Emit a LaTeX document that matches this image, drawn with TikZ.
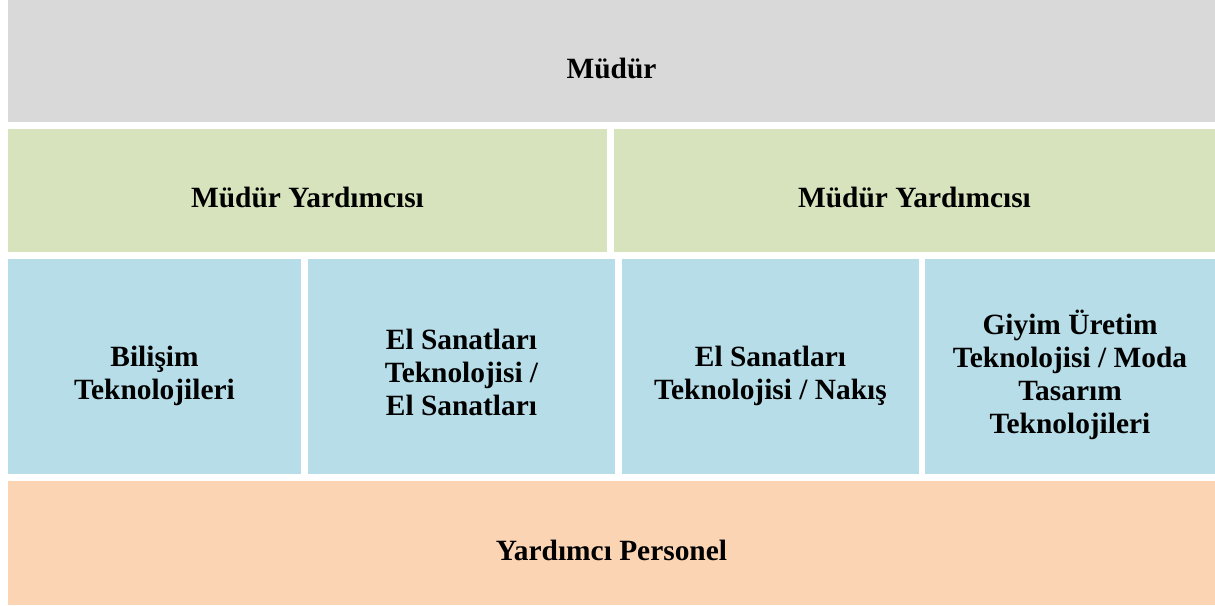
\documentclass[tikz,border=0pt]{standalone}
\usepackage{fontspec}
\setmainfont{Liberation Serif}
\usepackage{xcolor}
\definecolor{cellgray}{HTML}{D9D9D9}
\definecolor{cellgreen}{HTML}{D7E3BC}
\definecolor{cellblue}{HTML}{B7DDE8}
\definecolor{cellorange}{HTML}{FBD4B4}
\tikzset{%
  every cell/.style={
    rectangle,
    draw=none,
    inner sep=0pt,
    outer sep=0pt
  },
  cell text/.style={
    anchor=base,
    align=center,
    inner sep=0pt,
    font=\fontsize{29.4}{33}\selectfont\bfseries
  },
}
\begin{document}
\begin{tikzpicture}[x=1pt, y=1pt]
\useasboundingbox (0,0) rectangle (1215,605);

\node [every cell, fill=cellgray, minimum width=1207pt, minimum height=122pt] (mudur) at (611.5,544) {};

\foreach \n/\cx/\w in {1/307.5/599, 2/914.5/601}
  \node [every cell, fill=cellgreen, minimum width=\w pt, minimum height=123pt] (yard-\n) at (\cx,414.5) {};

\foreach \n/\cx/\w in {1/154.5/293, 2/461.5/307, 3/770.5/297, 4/1070/290}
  \node [every cell, fill=cellblue, minimum width=\w pt, minimum height=215pt] (dept-\n) at (\cx,238.5) {};

\node [every cell, fill=cellorange, minimum width=1207pt, minimum height=124pt] (personel) at (611.5,62) {};

% texts
\node [cell text] (mudur-text) at ([yshift=-18pt]mudur.center) {Müdür};
\foreach \n in {1,2}
  \node [cell text] (yard-\n-text) at ([yshift=-17.5pt]yard-\n.center) {Müdür Yardımcısı};

\node [cell text] (dept-1-text) at ([yshift=-33.5pt]dept-1.center) {Bilişim\\Teknolojileri};
\node [cell text] (dept-2-text) at ([yshift=-49.5pt]dept-2.center) {El Sanatları\\Teknolojisi /\\El Sanatları};
\node [cell text] (dept-3-text) at ([yshift=-33.5pt]dept-3.center) {El Sanatları\\Teknolojisi / Nakış};
\node [cell text] (dept-4-text) at ([yshift=-67pt]dept-4.center) {Giyim Üretim\\Teknolojisi / Moda\\Tasarım\\Teknolojileri};

\node [cell text] (personel-text) at ([yshift=-17pt]personel.center) {Yardımcı Personel};
\end{tikzpicture}
\end{document}
